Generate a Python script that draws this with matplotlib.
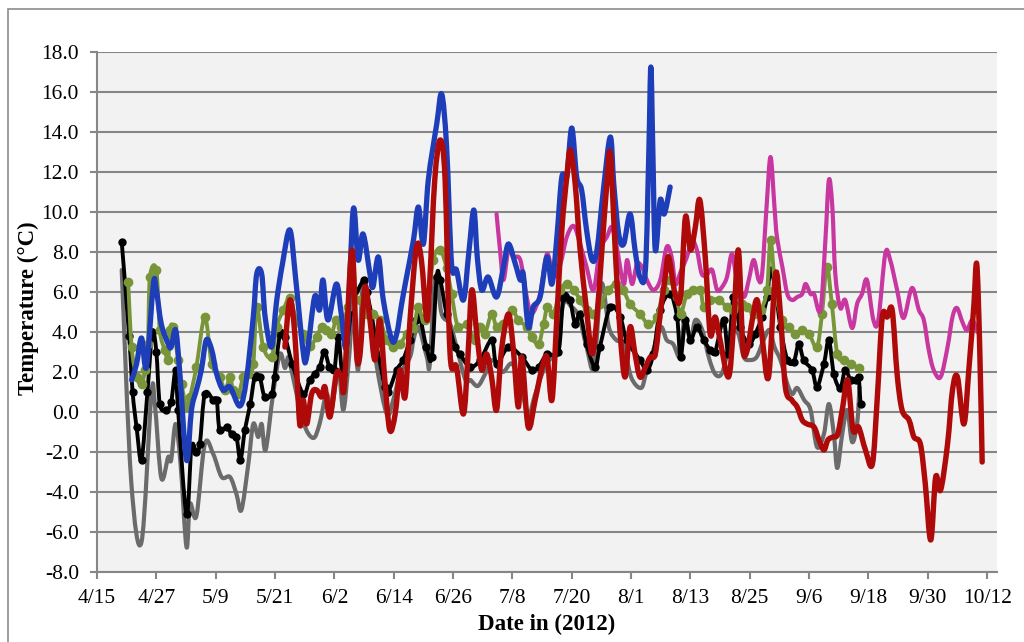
import datetime as dt
import numpy as np
import matplotlib
matplotlib.use("Agg")
import matplotlib.pyplot as plt
from matplotlib.path import Path
from matplotlib.patches import PathPatch, Rectangle
from matplotlib.ticker import FixedLocator, FuncFormatter

# days are counted from 15 April 2012
START = dt.date(2012, 4, 15)

gray_day = [5, 6.9, 9.0, 11.0, 11.7, 13.0, 14.4, 15.0, 15.9, 16.9, 18.1, 18.8, 20.1, 21.8, 23.5,
            25.2, 26.9, 28.2, 29.2, 30.6, 31.6, 32.6, 33.3, 34.1, 35.6, 37.0, 38.0, 38.7, 39.5,
            41.7, 43.7, 45.0, 46.4, 47.4, 48.8, 49.8, 50.8, 51.8, 52.8, 53.8, 55.2, 56.5, 58.6,
            59.9, 61.3, 63.3, 64.0, 65.0, 66.7, 67.3, 68.4, 69.7, 71.4, 72.7, 74.5, 75.5, 77.0,
            78.5, 80.0, 82.0, 84.0, 86.0, 87.2, 88.5, 90.0, 91.5, 93.0, 94.3, 96.0, 97.5, 99.0,
            100.5, 102.0, 103.5, 105.0, 106.5, 108.0, 110.0, 111.0, 112.5, 114.0, 115.2, 116.5,
            118.0, 118.8, 120.0, 121.0, 122.4, 123.7, 125.0, 126.3, 127.4, 128.4, 129.7, 130.8,
            132.0, 133.4, 134.8, 136.0, 137.0, 138.2, 139.6, 140.6, 141.6, 143.0, 144.3, 145.6,
            147.0, 148.0, 149.0, 149.7, 150.7, 151.7, 152.7, 153.7, 154.2]
gray_temp = [7.1, -3.4, -6.5, 0.9, 0.4, -3.3, -2.25, -2.4, -0.6, -2.6, -6.75, -4.6, -5.2, -1.6, -2.1,
             -3.25, -3.25, -4.1, -4.9, -2.6, -0.6, -1.25, -0.6, -1.9, 0.9, 2.9, 2.2, 2.75, 1.9,
             -0.5, -1.3, -0.6, 0.9, 0.1, 2.1, 0.1, 2.25, 4.9, 2.1, 6.5, 4.9, 2.4, -0.1,
             0.6, 1.9, 2.75, 3.6, 4.25, 2.75, 2.4, 6.75, 4.9, 4.4, 3.25, 1.6, 1.6, 1.3,
             1.9, 2.6, 2.0, 2.4, 1.0, -0.25, 0.8, 1.9, 2.6, 3.0, 5.4, 5.25, 4.75, 3.25,
             2.25, 6.4, 4.25, 3.6, 3.4, 1.75, 1.2, 1.9, 3.1, 4.25, 3.6, 3.4,
             2.75, 4.75, 3.6, 4.6, 4.1, 2.75, 1.9, 1.9, 2.9, 4.25, 3.9, 2.75,
             2.6, 2.75, 3.6, 4.1, 3.25, 2.6, 1.4, 0.9, 1.2, 0.6, 0.1, -1.75,
             -1.1, 0.4, -1.1, -2.8, -1.1, 0.1, -1.5, -0.6, 1.25]

black_day = [5, 6.5, 7.2, 8.0, 9.0, 10.2, 11.2, 12.0, 12.7, 14.0, 15.0, 15.9, 16.4, 18.1, 19.1,
             20.1, 20.8, 21.8, 23.5, 24.2, 24.8, 26.2, 27.2, 28.2, 29.0, 29.9, 31.0, 31.9, 32.9,
             33.9, 35.3, 35.9, 37.0, 38.0, 39.5, 41.7, 43.0, 44.0, 45.0, 46.0, 47.0, 48.0, 48.8,
             49.8, 51.5, 53.9, 54.5, 55.5, 56.5, 58.2, 58.9, 60.6, 61.9, 63.3, 64.6, 65.3, 66.6,
             67.7, 68.7, 69.4, 70.7, 72.4, 73.4, 75.4, 77.5, 79.8, 80.8, 83.2, 85.9, 87.9, 89.3,
             91.0, 93.3, 94.3, 95.6, 96.7, 97.7, 99.0, 100.7, 101.7, 103.8, 105.8, 107.1, 109.8,
             111.2, 112.5, 113.9, 115.9, 117.3, 118.0, 119.0, 120.0, 121.3, 122.7, 124.0, 125.0,
             126.7, 127.7, 128.7, 130.0, 131.8, 133.1, 134.5, 135.5, 136.2, 137.2, 138.2, 139.6,
             140.9, 141.9, 142.9, 144.6, 145.6, 147.0, 148.0, 149.0, 150.3, 151.3, 152.4, 153.4,
             154.0, 154.4]
black_temp = [8.5, 3.8, 1.0, -0.75, -2.4, 1.0, 4.0, 3.0, 0.4, 0.1, 0.5, 2.1, 0.1, -5.1, -1.75,
              -2.0, -1.6, 0.9, 0.6, 0.6, -0.9, -0.75, -1.1, -1.25, -2.4, -0.9, 0.4, 1.75, 1.75,
              0.75, 0.9, 1.75, 3.9, 3.75, 2.4, 0.9, 1.6, 1.9, 2.25, 3.0, 2.25, 2.1, 3.75,
              1.9, 5.1, 6.6, 6.0, 4.9, 3.4, 1.25, 1.0, 2.1, 2.6, 3.6, 4.6, 4.75, 3.25,
              2.75, 6.75, 6.6, 4.9, 3.25, 2.9, 2.25, 2.6, 3.6, 2.4, 3.25, 2.75, 2.1, 2.25,
              2.9, 3.0, 5.7, 5.6, 4.4, 4.9, 3.4, 2.25, 3.25, 5.25, 4.75, 3.6, 2.6,
              2.1, 2.9, 5.1, 5.9, 4.75, 2.75, 4.6, 3.6, 4.25, 3.6, 3.1, 3.0,
              4.6, 2.9, 5.75, 4.25, 3.4, 3.9, 4.75, 5.75, 7.1, 6.1, 4.25, 2.6,
              2.5, 3.4, 2.6, 2.1, 1.25, 2.4, 3.6, 1.9, 1.2, 2.1, 1.6, 1.6,
              1.75, 0.4]

green_day = [6.3, 7.0, 8.0, 9.0, 9.7, 10.3, 10.7, 12.0, 12.7, 13.7, 14.4, 14.7, 15.4, 16.4, 17.1,
             18.1, 18.8, 20.1, 21.8, 23.2, 24.8, 25.9, 26.9, 27.5, 28.6, 29.6, 30.6, 31.6, 32.3,
             33.6, 35.3, 36.3, 37.7, 39.0, 40.3, 41.7, 43.0, 44.4, 45.4, 46.4, 47.4, 48.4, 49.4,
             50.8, 51.8, 53.1, 54.5, 55.8, 57.2, 58.6, 59.9, 61.3, 62.6, 64.0, 65.0, 66.3, 68.0,
             69.4, 70.7, 71.7, 73.0, 74.8, 76.4, 77.4, 78.4, 79.8, 80.8, 82.2, 83.9, 85.2, 86.9,
             87.9, 89.3, 90.3, 91.1, 92.3, 93.7, 95.0, 96.4, 97.7, 99.0, 100.4, 101.7, 103.4,
             105.0, 106.4, 107.8, 109.8, 111.5, 113.2, 114.6, 115.9, 117.2, 118.0, 119.3, 120.6,
             122.0, 122.7, 124.0, 125.7, 127.4, 128.7, 130.4, 131.4, 132.8, 134.2, 135.5, 136.2,
             137.2, 138.5, 139.9, 141.2, 142.6, 144.0, 145.6, 146.6, 147.6, 148.6, 149.7, 151.0,
             152.4, 154.0]
green_temp = [6.5, 3.25, 1.75, 1.4, 2.1, 3.4, 6.75, 7.1, 4.1, 3.1, 2.6, 4.1, 4.25, 2.6, 1.4,
              0.25, 0.75, 2.25, 4.75, 2.4, 1.75, 1.1, 1.75, 1.1, 0.9, 1.75, 1.9, 2.4, 5.25,
              3.25, 2.75, 4.25, 5.1, 5.7, 4.6, 3.9, 3.3, 3.75, 4.25, 4.1, 3.9, 4.6, 4.25,
              5.25, 5.75, 5.6, 4.9, 4.9, 4.6, 3.6, 3.25, 3.4, 3.9, 4.2, 5.25, 4.6, 7.6,
              8.1, 7.2, 5.9, 4.25, 4.4, 3.6, 4.25, 3.9, 4.9, 4.25, 4.4, 5.1, 4.6, 4.25,
              3.75, 3.4, 4.4, 5.25, 4.9, 6.1, 6.4, 6.1, 5.6, 5.1, 4.9, 5.4, 6.1,
              6.4, 6.1, 5.4, 4.9, 4.4, 4.75, 6.1, 6.6, 5.75, 4.9, 5.9, 6.1,
              6.1, 5.25, 5.6, 5.6, 5.25, 5.1, 5.4, 5.25, 4.9, 5.1, 6.1, 8.6,
              6.1, 4.6, 4.25, 3.9, 4.1, 3.9, 3.25, 4.9, 7.25, 5.4, 2.9, 2.6,
              2.4, 2.2]

blue_day = [7.0, 8.0, 9.0, 10.0, 11.4, 12.0, 13.0, 14.4, 15.0, 15.9, 16.7, 18.1, 19.1, 20.1, 21.1,
            22.1, 23.2, 24.2, 25.5, 26.9, 28.9, 30.2, 31.6, 32.3, 33.3, 34.0, 35.3, 36.3, 37.5,
            39.0, 40.2, 41.7, 42.4, 44.0, 45.0, 45.7, 46.7, 48.4, 49.4, 50.5, 51.8, 52.8, 53.8,
            55.2, 55.8, 56.9, 57.9, 59.6, 60.6, 61.6, 62.6, 64.0, 65.0, 66.0, 67.0, 68.7, 69.7,
            70.7, 71.7, 72.7, 74.1, 75.2, 76.2, 76.9, 77.8, 79.1, 80.8, 82.2, 83.2, 84.6, 85.6,
            86.2, 87.2, 88.2, 89.6, 91.0, 92.0, 93.0, 94.0, 95.0, 96.0, 97.0, 98.0, 99.0, 100.1,
            101.1, 102.4, 103.8, 104.5, 105.5, 106.5, 107.8, 108.8, 109.8, 110.9, 111.6, 112.0,
            112.4, 112.9, 113.9, 114.7, 115.9]
blue_temp = [1.6, 2.4, 3.7, 2.25, 6.4, 6.1, 4.4, 3.4, 3.25, 4.1, 2.1, -2.4, 0.1, 1.1, 2.1,
             3.6, 3.1, 1.9, 1.1, 1.25, 0.3, 1.6, 4.75, 6.9, 6.9, 4.75, 3.25, 5.5, 7.4,
             9.1, 6.6, 3.0, 2.75, 5.75, 5.1, 6.6, 4.6, 6.4, 4.9, 3.4, 10.1, 7.6, 8.9,
             6.9, 6.25, 7.75, 5.6, 3.6, 3.9, 5.4, 6.75, 8.6, 10.25, 8.4, 11.6, 14.4, 15.9,
             13.25, 7.4, 7.1, 5.6, 8.0, 10.1, 7.75, 6.1, 6.75, 5.75, 7.25, 8.4, 7.4, 6.6,
             6.9, 4.25, 5.25, 5.75, 7.75, 6.4, 8.75, 11.75, 11.75, 14.2, 11.75, 11.1, 9.1, 7.6,
             8.1, 11.1, 13.75, 11.4, 8.9, 8.4, 9.9, 8.1, 6.75, 7.1, 13.1, 17.25,
             13.1, 8.1, 10.6, 9.9, 11.25]

magenta_day = [80.8, 81.5, 82.2, 83.2, 84.2, 85.6, 86.9, 87.9, 89.6, 91.0, 92.3, 93.7, 95.0, 96.4,
               97.7, 99.0, 100.4, 101.7, 103.1, 104.1, 105.0, 106.5, 107.2, 108.2, 109.2, 110.2,
               111.2, 112.5, 113.9, 115.2, 116.2, 117.0, 118.0, 119.3, 120.3, 121.3, 122.3, 123.4,
               124.4, 125.4, 126.4, 127.4, 128.4, 129.4, 130.8, 131.8, 132.8, 133.8, 134.5, 135.4,
               136.2, 137.0, 137.5, 138.6, 139.6, 140.6, 141.6, 142.6, 143.3, 144.3, 145.0, 146.3,
               147.3, 148.0, 148.7, 149.3, 150.3, 151.3, 152.7, 153.7, 154.7, 155.7, 157.0, 158.0,
               159.4, 160.4, 161.8, 163.1, 164.8, 166.2, 167.2, 168.2, 169.2, 170.6, 172.0, 173.0,
               173.9, 175.0, 175.9, 177.0, 178.0]
magenta_temp = [9.9, 8.1, 6.6, 8.1, 7.75, 7.6, 5.75, 4.9, 5.9, 7.9, 6.75, 7.4, 8.75, 9.3,
                8.4, 7.25, 6.1, 8.1, 8.75, 9.25, 8.4, 6.4, 7.6, 6.4, 7.4, 7.25,
                6.6, 6.1, 6.6, 8.25, 7.75, 6.4, 7.0, 7.75, 8.6, 8.1, 6.9, 6.9,
                7.1, 6.1, 6.25, 6.75, 7.9, 6.6, 5.75, 6.6, 7.6, 6.6, 6.9, 10.25,
                12.75, 10.25, 8.75, 7.25, 5.9, 5.6, 5.75, 5.9, 6.4, 5.9, 5.9, 5.1,
                8.6, 11.6, 10.25, 6.9, 5.2, 5.6, 4.2, 5.4, 5.9, 6.6, 4.6, 4.6,
                7.9, 7.6, 6.1, 4.7, 6.2, 5.1, 4.6, 3.1, 2.1, 1.75, 3.25, 4.75,
                5.2, 4.5, 4.1, 4.6, 4.0]

red_day = [38.0, 39.0, 40.0, 41.0, 41.7, 42.4, 43.4, 44.4, 45.4, 46.1, 47.1, 48.4, 49.4, 50.0,
           51.2, 51.8, 52.5, 53.2, 54.2, 55.2, 56.2, 57.2, 58.2, 59.2, 60.3, 61.3, 62.3, 63.3,
           64.6, 65.6, 66.7, 67.3, 68.3, 69.4, 70.4, 71.4, 72.7, 74.1, 75.0, 75.8, 76.8, 77.8,
           78.8, 79.8, 80.8, 81.8, 83.2, 84.2, 85.2, 85.9, 87.2, 88.6, 89.9, 91.0, 92.0, 93.0,
           94.0, 95.0, 95.7, 96.7, 97.7, 99.0, 100.1, 101.1, 102.1, 103.1, 103.8, 104.8, 105.8,
           106.8, 107.8, 108.8, 109.8, 110.9, 111.9, 112.9, 113.9, 114.9, 115.6, 116.9, 118.0,
           119.0, 120.0, 121.0, 121.9, 123.0, 124.0, 125.0, 126.0, 127.7, 128.7, 129.7, 130.6,
           131.5, 132.5, 133.5, 134.5, 135.8, 137.2, 138.2, 139.2, 140.5, 141.6, 142.6, 143.6,
           145.0, 146.0, 147.0, 147.8, 148.8, 149.8, 150.8, 151.8, 152.9, 154.0, 155.4, 156.8,
           157.8, 158.8, 159.8, 160.8, 161.8, 162.8, 164.2, 165.2, 166.5, 167.5, 168.6, 169.6,
           170.6, 172.0, 173.0, 174.0, 175.3, 176.3, 177.3, 177.9, 178.5, 179.0]
red_temp = [3.25, 5.6, 3.9, -0.6, 0.6, -0.6, 0.9, 1.1, 0.75, 1.25, -0.25, 1.9, 1.75, 1.25,
            7.25, 7.6, 2.9, 2.9, 6.25, 4.6, 2.6, 4.6, 1.6, -0.9, -0.1, 2.1, 0.75, 4.6,
            8.25, 7.6, 4.6, 6.6, 11.6, 13.6, 11.6, 2.9, 2.25, -0.1, 2.75, 6.1, 3.9, 2.1,
            2.9, 1.75, 0.1, 3.1, 4.9, 3.1, 0.25, 2.75, -0.75, 0.6, 2.1, 2.75, 0.6, 4.75,
            9.1, 11.75, 13.1, 11.4, 8.1, 5.1, 2.9, 4.75, 8.1, 11.4, 12.9, 8.1, 3.9,
            1.75, 4.25, 2.9, 1.75, 2.25, 2.75, 2.9, 4.9, 6.75, 7.75, 5.9, 5.75,
            9.75, 8.1, 9.25, 10.6, 7.75, 3.9, 4.75, 3.6, 1.75, 4.25, 8.1, 3.25,
            3.1, 4.6, 5.6, 3.75, 1.75, 6.9, 4.9, 1.25, 0.6, 0.25, -0.4, -0.6,
            -0.75, -1.4, -1.9, -1.4, -1.25, -1.1, 0.25, 1.6, -0.9, -0.75, -1.9, -2.6,
            0.75, 4.75, 4.75, 5.1, 1.9, 0.1, -0.4, -1.25, -1.6, -3.6, -6.4, -3.25,
            -3.9, -1.6, 1.1, 1.75, -0.6, 2.1, 5.25, 7.4, 3.25, -2.5]

tick_days = list(range(0, 181, 12))
y_ticks = list(range(-8, 19, 2))

FONT = "Liberation Serif"
GRID = "#868686"


def smooth_path(x, y):
    # cubic bezier through every point, like a spreadsheet "smoothed line"
    x = np.asarray(x, float)
    y = np.asarray(y, float)
    n = len(x)
    verts = [(x[0], y[0])]
    codes = [Path.MOVETO]
    for i in range(n - 1):
        a = i - 1 if i > 0 else i
        b = i + 2 if i + 2 < n else i + 1
        c1x = x[i] + (x[i + 1] - x[a]) / 6
        c1y = y[i] + (y[i + 1] - y[a]) / 6
        c2x = x[i + 1] - (x[b] - x[i]) / 6
        c2y = y[i + 1] - (y[b] - y[i]) / 6
        lo, hi = x[i], x[i + 1]
        c1x = min(max(c1x, lo), hi)
        c2x = min(max(c2x, lo), hi)
        verts += [(c1x, c1y), (c2x, c2y), (x[i + 1], y[i + 1])]
        codes += [Path.CURVE4] * 3
    return Path(verts, codes)


def draw_series(ax, days, temps, color, lw, marker_size=None, z=2):
    patch = PathPatch(smooth_path(days, temps), fill=False, edgecolor=color,
                      linewidth=lw, capstyle="round", joinstyle="round", zorder=z)
    ax.add_patch(patch)
    if marker_size:
        ax.plot(days, temps, linestyle="none", marker="o", ms=marker_size,
                color=color, mec=color, zorder=z)


def date_label(d, pos=None):
    day = START + dt.timedelta(days=int(round(d)))
    return f"{day.month}/{day.day}"


fig = plt.figure(figsize=(10.24, 6.42), dpi=100)
ax = fig.add_axes([97 / 1024, 70 / 642, 900 / 1024, 520 / 642])
ax.set_facecolor("#F2F2F2")

draw_series(ax, gray_day, gray_temp, "#6B6B6B", 3.0, z=2)
draw_series(ax, black_day, black_temp, "#000000", 2.8, marker_size=5.0, z=3)
draw_series(ax, green_day, green_temp, "#78953A", 2.8, marker_size=6.0, z=4)
draw_series(ax, magenta_day, magenta_temp, "#C8379F", 3.0, z=5)
draw_series(ax, blue_day, blue_temp, "#1E3DB8", 3.8, z=6)
draw_series(ax, red_day, red_temp, "#AE0A0A", 3.9, z=7)

ax.set_xlim(0, 182)
ax.set_ylim(-8, 18)
ax.xaxis.set_major_locator(FixedLocator(tick_days))
ax.xaxis.set_major_formatter(FuncFormatter(date_label))
ax.yaxis.set_major_locator(FixedLocator(y_ticks))
ax.yaxis.set_major_formatter(FuncFormatter(lambda v, p: f"{v:.1f}"))

ax.grid(axis="y", color=GRID, linewidth=1.5, zorder=1)
ax.set_axisbelow(True)
for side in ("top", "right"):
    ax.spines[side].set_visible(False)
for side in ("left", "bottom"):
    ax.spines[side].set_color(GRID)
    ax.spines[side].set_linewidth(1.5)
ax.tick_params(axis="both", direction="out", color=GRID, width=1.5, length=5,
               labelsize=15.5, labelcolor="black")
ax.tick_params(axis="x", pad=7)
ax.tick_params(axis="y", pad=8)
for lab in ax.get_xticklabels() + ax.get_yticklabels():
    lab.set_fontfamily(FONT)

fig.text(547 / 1024, 1 - 624 / 642, "Date in (2012)", ha="center", va="center",
         fontsize=16.5, fontweight="bold", family=FONT)
fig.text(28 / 1024, 1 - 308 / 642, "Temperature (\u00b0C)", ha="center", va="center",
         rotation=90, fontsize=16.5, fontweight="bold", family=FONT)

# outer chart frame
fig.patches.append(Rectangle((8 / 1024, -0.1), 1.2, 0.1 + 1 - 9 / 642,
                             transform=fig.transFigure, fill=False,
                             edgecolor="#8C8C8C", linewidth=1.2))

fig.savefig("out.png", dpi=100)
